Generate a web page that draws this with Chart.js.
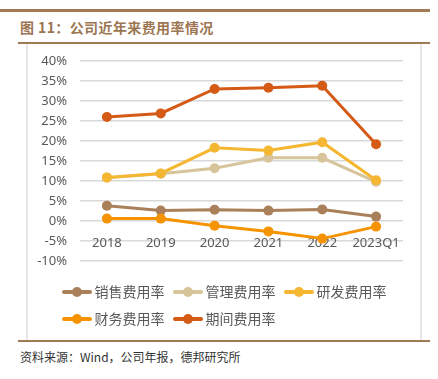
<!DOCTYPE html>
<html>
<head>
<meta charset="utf-8">
<script src="https://cdn.jsdelivr.net/npm/chart.js@4"></script>
<style>
  body { margin: 0; background: #fff; width: 438px; height: 379px; position: relative; overflow: hidden; }
  .rule { position: absolute; background: #a07a52; }
  .frame { position: absolute; background: #e6e6e6; width: 2px; top: 44px; height: 296px; }
  #title { position: absolute; left: 20px; top: 17px; font: bold 14px "Noto Sans CJK SC"; color: #9c7653; letter-spacing: 0.4px; }
  #source { position: absolute; left: 20px; top: 348px; font: 12px "Noto Sans CJK SC"; color: #333; }
  #wrap { position: absolute; left: 27px; top: 44px; width: 394px; height: 296px; }
</style>
</head>
<body>
<div class="rule" style="left:0; top:9px; width:430px; height:3px;"></div>
<div id="title">图 11：公司近年来费用率情况</div>
<div class="rule" style="left:18px; top:42px; width:412px; height:2px;"></div>
<div class="frame" style="left:26px;"></div>
<div class="frame" style="left:420px;"></div>
<div id="wrap"><canvas id="chart"></canvas></div>
<div class="rule" style="left:18px; top:340px; width:412px; height:2px;"></div>
<div id="source">资料来源：Wind，公司年报，德邦研究所</div>
<script>
// 数据（%）
const categories = ['2018', '2019', '2020', '2021', '2022', '2023Q1'];
const salesRate = [3.8, 2.6, 2.8, 2.6, 2.9, 1.1];
const adminRate = [10.8, 11.8, 13.2, 15.8, 15.8, 9.8];
const rdRate = [10.9, 11.9, 18.3, 17.6, 19.7, 10.2];
const financeRate = [0.6, 0.6, -1.2, -2.6, -4.4, -1.4];
const periodRate = [26.0, 26.9, 33.0, 33.3, 33.8, 19.2];
const yTicks = [-10, -5, 0, 5, 10, 15, 20, 25, 30, 35, 40];

const colors = ['#a9805a', '#d8c49a', '#f5b731', '#f59300', '#d45a16'];

// legend marker: line with a dot
function legendMark(color) {
  const c = document.createElement('canvas');
  c.width = 30; c.height = 12;
  const ctx = c.getContext('2d');
  ctx.strokeStyle = color;
  ctx.lineWidth = 4;
  ctx.lineCap = 'round';
  ctx.beginPath(); ctx.moveTo(2, 6); ctx.lineTo(28, 6); ctx.stroke();
  ctx.fillStyle = color;
  ctx.beginPath(); ctx.arc(15, 6, 5, 0, Math.PI * 2); ctx.fill();
  return c;
}

function makeSet(label, data, color, order) {
  return {
    label: label,
    data: data,
    borderColor: color,
    backgroundColor: color,
    borderWidth: 3,
    pointRadius: 5,
    pointHoverRadius: 5,
    pointBorderWidth: 0,
    tension: 0,
    order: order,
    legendMark: legendMark(color)
  };
}

// move legend to where the original sits
const legendPlace = {
  id: 'legendPlace',
  afterLayout(chart) {
    const l = chart.legend;
    const h = l.bottom - l.top;
    l.left = 26.5;
    l.right = 394;
    l.top = 228;
    l.bottom = l.top + h;
  }
};

new Chart(document.getElementById('chart'), {
  type: 'line',
  data: {
    labels: categories,
    datasets: [
      makeSet('销售费用率', salesRate, colors[0], 5),
      makeSet('管理费用率', adminRate, colors[1], 4),
      makeSet('研发费用率', rdRate, colors[2], 3),
      makeSet('财务费用率', financeRate, colors[3], 2),
      makeSet('期间费用率', periodRate, colors[4], 1)
    ]
  },
  options: {
    responsive: true,
    maintainAspectRatio: false,
    animation: false,
    layout: { padding: { top: 17, left: 0, right: 18, bottom: 15 } },
    plugins: {
      tooltip: { enabled: false },
      legend: {
        position: 'bottom',
        align: 'start',
        labels: {
          usePointStyle: true,
          pointStyleWidth: 21,
          padding: 13,
          color: '#595959',
          font: { family: 'Noto Sans CJK SC', size: 14 },
          sort: (a, b) => a.datasetIndex - b.datasetIndex,
          generateLabels(chart) {
            const items = Chart.defaults.plugins.legend.labels.generateLabels(chart);
            items.forEach(it => {
              it.pointStyle = chart.data.datasets[it.datasetIndex].legendMark;
            });
            return items;
          }
        }
      }
    },
    scales: {
      x: {
        position: { y: 0 },
        offset: true,
        grid: { display: false },
        border: { display: false },
        ticks: {
          color: '#595959',
          padding: 6,
          maxRotation: 0,
          font: { family: 'Noto Sans', size: 13 }
        }
      },
      y: {
        min: -10,
        max: 40,
        afterBuildTicks(axis) {
          axis.ticks = yTicks.map(v => ({ value: v }));
        },
        afterFit(axis) {
          axis.width = 53;
          axis.paddingTop = 0;
          axis.paddingBottom = 0;
        },
        grid: { color: '#d9d9d9', lineWidth: 1.5, drawTicks: false },
        border: { display: false },
        ticks: {
          color: '#595959',
          padding: 13,
          font: { family: 'Noto Sans', size: 13 },
          callback: v => v + '%'
        }
      }
    }
  },
  plugins: [legendPlace]
});
</script>
</body>
</html>
